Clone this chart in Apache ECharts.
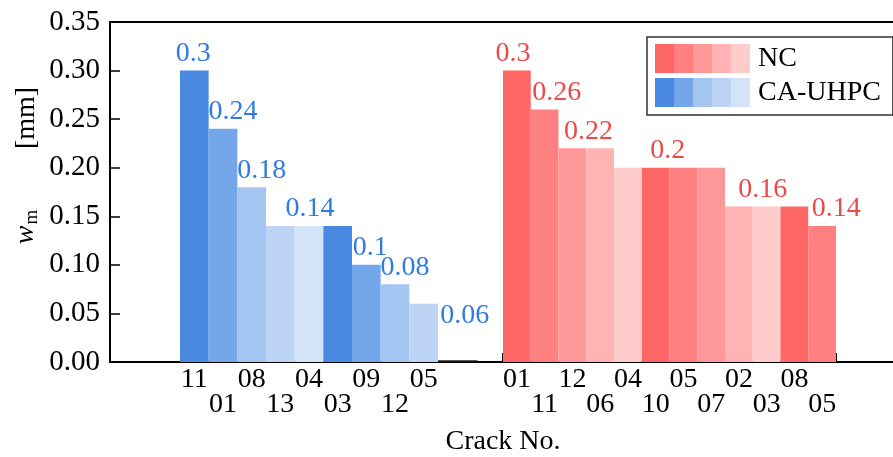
<!DOCTYPE html>
<html>
<head>
<meta charset="utf-8">
<script src="https://cdn.jsdelivr.net/npm/echarts@6/dist/echarts.min.js"></script>
<style>
html,body{margin:0;padding:0;background:#fff;}
#c{width:893px;height:457px;}
</style>
</head>
<body>
<div id="c"></div>
<script>
// ---- data ----
const blueCracks = ['11','01','08','13','04','03','09','12','05'];
const blueValues = [0.30, 0.24, 0.18, 0.14, 0.14, 0.14, 0.10, 0.08, 0.06];
const redCracks = ['01','11','12','06','04','10','05','07','02','03','08','05'];
const redValues = [0.30, 0.26, 0.22, 0.22, 0.20, 0.20, 0.20, 0.20, 0.16, 0.16, 0.16, 0.14];
const yMin = 0, yMax = 0.35, yStep = 0.05;

// ---- styles ----
const FONT = '"Liberation Serif","Times New Roman",serif';
const bluePalette = ['#4a89e2','#74a6ea','#a4c4f1','#bdd4f4','#d3e3f8'];
const redPalette = ['#ff6666','#ff8080','#ff9999','#ffb3b3','#ffcccc'];
const blueText = '#2f7be2';
const redText = '#ec4a4a';
// which bars carry a value label and how it is nudged (style only)
const blueLabelNudge = {0:[-1,0],1:[10,0],2:[10,0],4:[1,0],6:[4,0],7:[10,0],8:[41,29]};
const redLabelNudge  = {0:[-4,0],1:[12,0],2:[16,0],5:[12,0],9:[-4,0],11:[14,0]};

function gradient(p){
  const stops=[];
  p.forEach((c,i)=>{stops.push({offset:i/p.length,color:c});stops.push({offset:(i+1)/p.length,color:c});});
  return new echarts.graphic.LinearGradient(0,0,1,0,stops);
}
function barData(values, palette, nudge, txtColor){
  return values.map((v,i)=>{
    const item={value:v,itemStyle:{color:palette[i%palette.length]}};
    if(nudge[i]){
      item.label={show:true,position:'top',distance:3,offset:nudge[i],color:txtColor,
        fontFamily:FONT,fontSize:28,formatter:(p)=>String(p.value)};
    }
    return item;
  });
}
const altLabel = (v,i)=> (i%2===1 ? '\n'+v : v);
const catLabel = {interval:0,margin:5,fontFamily:FONT,fontSize:28,lineHeight:25,color:'#000',formatter:altLabel,hideOverlap:false};
const G = {top:22,bottom:95,outerBoundsMode:'none',containLabel:false};

const chart = echarts.init(document.getElementById('c'),null,{renderer:'canvas'});
chart.setOption({
  animation:false,
  backgroundColor:'#fff',
  grid:[
    Object.assign({left:110,right:-4,show:true,borderColor:'#000',borderWidth:2,backgroundColor:'transparent'},G),
    Object.assign({left:180,width:258},G),
    Object.assign({left:503,width:333},G),
    {left:430,width:47,top:22,bottom:96,outerBoundsMode:'none'}
  ],
  xAxis:[
    {gridIndex:0,type:'value',min:0,max:1,axisLine:{show:false},axisTick:{show:false},axisLabel:{show:false},splitLine:{show:false}},
    {gridIndex:1,type:'category',data:blueCracks,axisLine:{show:false},
      axisTick:{show:true,inside:true,length:9,alignWithLabel:true,interval:(i)=>i===4,lineStyle:{color:'#000',width:2}},
      axisLabel:catLabel,splitLine:{show:false}},
    {gridIndex:2,type:'category',data:redCracks,axisLine:{show:false},
      axisTick:{show:true,inside:true,length:9,alignWithLabel:false,interval:(i)=>i===6,lineStyle:{color:'#000',width:2}},
      axisLabel:catLabel,splitLine:{show:false}},
    {gridIndex:3,type:'value',min:0,max:1,axisLine:{show:true,lineStyle:{color:'#222',width:1.5}},axisTick:{show:false},axisLabel:{show:false},splitLine:{show:false}}
  ],
  yAxis:[
    {gridIndex:0,type:'value',min:yMin,max:yMax,interval:yStep,
      axisLine:{show:true,lineStyle:{color:'#000',width:2}},
      axisTick:{show:true,inside:true,length:10,lineStyle:{color:'#000',width:1.5}},
      axisLabel:{margin:10,fontFamily:FONT,fontSize:29,color:'#000',formatter:(v)=>v.toFixed(2)},
      splitLine:{show:false}},
    {gridIndex:1,type:'value',min:yMin,max:yMax,show:false},
    {gridIndex:2,type:'value',min:yMin,max:yMax,show:false},
    {gridIndex:3,type:'value',min:yMin,max:yMax,show:false}
  ],
  legend:{
    orient:'vertical',left:647,top:37,
    data:[{name:'NC',itemStyle:{color:gradient(redPalette)}},{name:'CA-UHPC',itemStyle:{color:gradient(bluePalette)}}],
    icon:'rect',itemWidth:95,itemHeight:29,itemGap:5,
    padding:[7,12,8,8],
    borderColor:'#333',borderWidth:1.5,
    textStyle:{fontFamily:FONT,fontSize:28,color:'#000',padding:[0,0,0,3]}
  },
  graphic:[
    {type:'text',rotation:Math.PI/2,x:26,y:227,
      style:{text:'{i|w}{s|m}',align:'center',verticalAlign:'middle',fill:'#000',
        rich:{i:{fontFamily:FONT,fontSize:28,fontStyle:'italic'},
              s:{fontFamily:FONT,fontSize:19,padding:[12,0,0,1]}}}},
    {type:'text',rotation:Math.PI/2,x:27,y:118,
      style:{text:'[mm]',align:'center',verticalAlign:'middle',fill:'#000',fontFamily:FONT,fontSize:28}},
    {type:'text',x:503,y:442,
      style:{text:'Crack No.',align:'center',verticalAlign:'middle',fill:'#000',fontFamily:FONT,fontSize:28}}
  ],
  series:[
    {name:'NC',type:'bar',xAxisIndex:2,yAxisIndex:2,barCategoryGap:'0%',barGap:'0%',
      itemStyle:{color:redPalette[0]},data:barData(redValues,redPalette,redLabelNudge,redText)},
    {name:'CA-UHPC',type:'bar',xAxisIndex:1,yAxisIndex:1,barCategoryGap:'0%',barGap:'0%',
      itemStyle:{color:bluePalette[0]},data:barData(blueValues,bluePalette,blueLabelNudge,blueText)}
  ]
});
</script>
</body>
</html>
